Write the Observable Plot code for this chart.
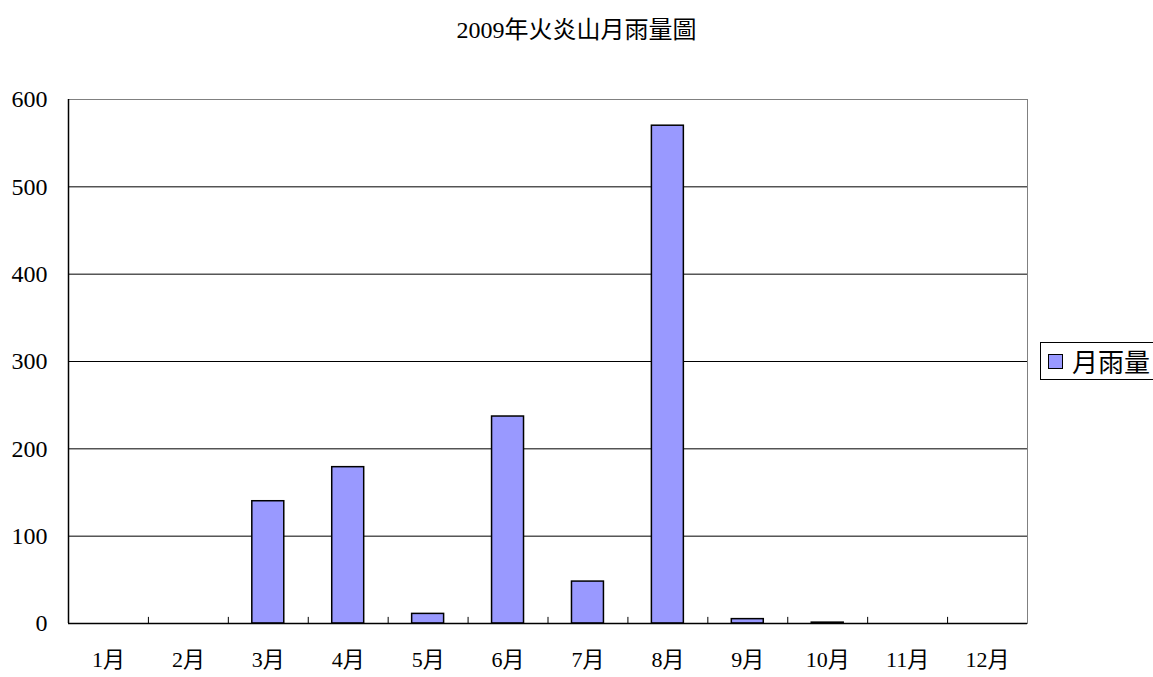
<!DOCTYPE html>
<html>
<head>
<meta charset="utf-8">
<script src="https://cdn.jsdelivr.net/npm/d3@7"></script>
<script src="https://cdn.jsdelivr.net/npm/@observablehq/plot@0.6"></script>
<style>
  html, body { margin: 0; padding: 0; background: #fff; }
  #wrap { position: relative; width: 1153px; height: 677px; overflow: hidden;
          font-family: "Liberation Serif", "Noto Sans CJK TC", serif; color: #000; }
  #title { height: 60px; line-height: 60px; text-align: center; font-size: 24px; width: 1153px; }
  #legend { position: absolute; left: 1040px; top: 342px; width: 130px; height: 38px;
            border: 1px solid #000; box-sizing: border-box; display: flex; align-items: center; }
  #legend .sw { width: 15px; height: 15px; background: #9999ff; border: 1.5px solid #000;
                margin-left: 7px; margin-right: 9px; box-sizing: border-box; flex: none; }
  #legend .lb { font-size: 26px; font-family: "Noto Sans CJK TC", sans-serif; line-height: 1; white-space: nowrap; }
</style>
</head>
<body>
<div id="wrap">
  <div id="title">2009年火炎山月雨量圖</div>
  <div id="chart"></div>
  <div id="legend"><div class="sw"></div><div class="lb"></div></div>
</div>
<script>
const chartTitle = "2009年火炎山月雨量圖";
const seriesName = "月雨量";
const months = ["1月","2月","3月","4月","5月","6月","7月","8月","9月","10月","11月","12月"];
const rainfall = [0, 0, 140, 179, 11, 237, 48, 570, 5, 1, 0, 0];
const yTicks = [0, 100, 200, 300, 400, 500, 600];

document.getElementById("title").textContent = chartTitle;
document.querySelector("#legend .lb").textContent = seriesName;

const data = months.map((m, i) => ({month: m, value: rainfall[i]}));
const gridVals = yTicks.filter(v => v > 0 && v < 600);

const W = 1153, H = 617;
const mL = 68, mR = 126, mT = 39, mB = 54;
const step = (W - mL - mR) / months.length;

const plot = Plot.plot({
  width: W,
  height: H,
  marginLeft: mL,
  marginRight: mR,
  marginTop: mT,
  marginBottom: mB,
  style: { fontFamily: "'Liberation Serif', 'Noto Sans CJK TC', serif", fontSize: "22px", color: "#000", background: "#fff" },
  x: { domain: months, paddingInner: 0.6, paddingOuter: 0.3, round: false, label: null },
  y: { domain: [0, 600], label: null },
  marks: [
    Plot.frame({ stroke: "#808080" }),
    Plot.ruleY(gridVals, { stroke: "#000", strokeWidth: 1 }),
    Plot.barY(data, { x: "month", y: "value", fill: "#9999ff", stroke: "#000", strokeWidth: 1.5 }),
    Plot.ruleX(months, { x: d => d, dx: -step / 2, y1: 0, y2: 7, stroke: "#000" }),
    Plot.ruleX([months[0]], { x: d => d, dx: -step / 2, stroke: "#000", strokeWidth: 1.5 }),
    Plot.ruleY([0], { stroke: "#000", strokeWidth: 1.5 }),
    Plot.axisY({ ticks: yTicks, tickSize: 0, tickPadding: 21, fontSize: 24, label: null }),
    Plot.axisX({ tickSize: 0, tickPadding: 28, fontSize: 22, label: null })
  ]
});
document.getElementById("chart").appendChild(plot);
</script>
</body>
</html>
